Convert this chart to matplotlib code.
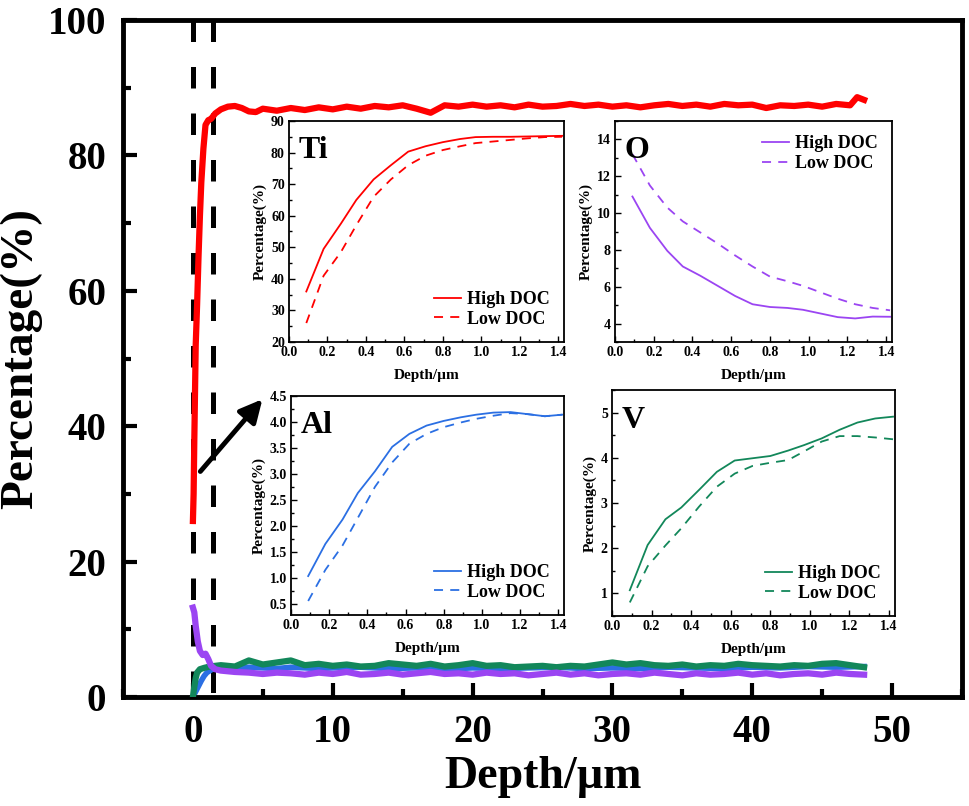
import matplotlib
matplotlib.use("Agg")
import matplotlib.pyplot as plt
from matplotlib.ticker import MultipleLocator, FormatStrFormatter

plt.rcParams["font.family"] = ["Liberation Serif", "DejaVu Serif"]
plt.rcParams["font.weight"] = "bold"
plt.rcParams["axes.labelweight"] = "bold"

W, H = 969, 806

RED = "#FF0000"
PURPLE = "#9B45F2"
BLUE = "#2B6FE3"
GREEN = "#12875A"

# main depth profiles (Depth in um, Percentage in %)
ti_x = [0.0, 0.05, 0.1, 0.15, 0.2, 0.3, 0.4, 0.5, 0.6, 0.75, 0.9, 1.1, 1.3, 1.6, 2.0,
        2.5, 3.0, 3.5, 4.0, 4.5, 5, 6, 7, 8, 9, 10, 11, 12, 13, 14, 15, 16, 17, 18,
        19, 20, 21, 22, 23, 24, 25, 26, 27, 28, 29, 30, 31, 32, 33, 34, 35, 36, 37,
        38, 39, 40, 41, 42, 43, 44, 45, 46, 47, 47.5, 48]
ti_y = [26, 30, 38, 45, 52, 58, 65, 71, 76, 81, 84.5, 85.2, 85.4, 86.2, 86.8,
        87.2, 87.3, 87.0, 86.5, 86.4, 86.9, 86.6, 87.0, 86.7, 87.1, 86.8, 87.2, 86.9,
        87.3, 87.1, 87.4, 86.9, 86.3, 87.4, 87.2, 87.5, 87.2, 87.4, 87.1, 87.5, 87.2,
        87.3, 87.6, 87.3, 87.5, 87.2, 87.4, 87.1, 87.4, 87.6, 87.3, 87.5, 87.2, 87.6,
        87.4, 87.5, 87.0, 87.4, 87.3, 87.5, 87.2, 87.6, 87.4, 88.6, 88.2]

al_x = [0.0, 0.2, 0.4, 0.6, 0.8, 1.0, 1.3, 1.6, 2, 3, 4, 5, 6, 7, 8, 9, 10, 12, 14,
        16, 18, 20, 22, 24, 26, 28, 30, 32, 34, 36, 38, 40, 42, 44, 46, 48]
al_y = [0.0, 0.8, 1.6, 2.4, 3.1, 3.6, 4.0, 4.2, 4.3, 4.2, 4.4, 4.3, 4.2, 4.4, 4.3,
        4.2, 4.3, 4.4, 4.2, 4.3, 4.1, 4.3, 4.2, 4.3, 4.4, 4.2, 4.3, 4.2, 4.4, 4.3,
        4.2, 4.4, 4.3, 4.5, 4.4, 4.5]

v_x = [0.0, 0.1, 0.2, 0.3, 0.5, 0.8, 1.2, 1.6, 2, 3, 4, 5, 6, 7, 8, 9, 10, 11, 12,
       13, 14, 15, 16, 17, 18, 19, 20, 21, 22, 23, 24, 25, 26, 27, 28, 29, 30, 31,
       32, 33, 34, 35, 36, 37, 38, 39, 40, 41, 42, 43, 44, 45, 46, 47, 48]
v_y = [0.0, 1.5, 2.8, 3.6, 4.1, 4.3, 4.5, 4.6, 4.7, 4.5, 5.4, 4.8, 5.1, 5.4, 4.7,
       4.9, 4.6, 4.8, 4.5, 4.6, 5.0, 4.8, 4.6, 4.9, 4.5, 4.7, 5.0, 4.6, 4.7, 4.4,
       4.5, 4.6, 4.4, 4.6, 4.5, 4.8, 5.1, 4.8, 5.0, 4.7, 4.6, 4.8, 4.5, 4.7, 4.6,
       4.9, 4.7, 4.6, 4.5, 4.7, 4.6, 4.9, 5.0, 4.7, 4.4]

o_x = [0.0, 0.1, 0.2, 0.35, 0.5, 0.7, 0.9, 1.1, 1.3, 1.6, 2, 3, 4, 5, 6, 7, 8, 9,
       10, 11, 12, 13, 14, 15, 16, 17, 18, 19, 20, 21, 22, 23, 24, 25, 26, 27, 28,
       29, 30, 31, 32, 33, 34, 35, 36, 37, 38, 39, 40, 41, 42, 43, 44, 45, 46, 47, 48]
o_y = [13.2, 12.5, 10.5, 8.2, 6.8, 6.2, 6.4, 5.6, 4.6, 4.1, 3.9, 3.7, 3.6, 3.4, 3.6,
       3.5, 3.3, 3.6, 3.4, 3.7, 3.3, 3.4, 3.6, 3.3, 3.5, 3.7, 3.4, 3.5, 3.3, 3.6,
       3.4, 3.5, 3.2, 3.4, 3.6, 3.3, 3.5, 3.2, 3.4, 3.5, 3.3, 3.6, 3.4, 3.2, 3.5,
       3.3, 3.4, 3.6, 3.3, 3.5, 3.2, 3.4, 3.5, 3.3, 3.6, 3.4, 3.3]

# near-surface insets (High / Low DOC)
depth = [0.09, 0.18, 0.27, 0.35, 0.44, 0.53, 0.62, 0.71, 0.80, 0.89, 0.97, 1.06,
         1.15, 1.24, 1.33, 1.42]
ti_high = [36, 49.5, 57.5, 65, 71.5, 76, 80.3, 82, 83.3, 84.3, 84.9, 85, 85, 85.1, 85.2, 85.3]
ti_low = [26, 41, 48.5, 57, 66, 71.5, 76, 79, 80.8, 82, 83, 83.5, 84, 84.5, 84.9, 85]
o_high = [10.9, 9.2, 7.95, 7.1, 6.6, 6.05, 5.5, 5.05, 4.9, 4.85, 4.75, 4.55, 4.35, 4.28, 4.38, 4.37]
o_low = [13.2, 11.5, 10.3, 9.55, 8.95, 8.35, 7.7, 7.1, 6.55, 6.3, 6.05, 5.7, 5.35, 5.05, 4.85, 4.72]
al_high = [1.03, 1.65, 2.12, 2.63, 3.05, 3.52, 3.77, 3.93, 4.02, 4.09, 4.14, 4.18, 4.19, 4.15, 4.11, 4.14]
al_low = [0.55, 1.15, 1.62, 2.15, 2.75, 3.22, 3.58, 3.77, 3.9, 3.99, 4.06, 4.12, 4.17, 4.15, 4.11, 4.14]
v_high = [1.07, 2.07, 2.64, 2.9, 3.29, 3.69, 3.94, 3.99, 4.04, 4.16, 4.28, 4.43, 4.62, 4.78, 4.87, 4.91]
v_low = [0.8, 1.6, 2.06, 2.44, 2.92, 3.36, 3.65, 3.82, 3.89, 3.95, 4.14, 4.36, 4.48, 4.48, 4.45, 4.41]


def px_axes(fig, left, top, right, bottom):
    return fig.add_axes([left / W, 1 - bottom / H, (right - left) / W, (bottom - top) / H])


fig = plt.figure(figsize=(W / 100, H / 100), dpi=100)
ax = px_axes(fig, 123, 20, 962, 697)

# dashed markers of the inset depth window
for xv in (0.0, 1.43):
    ax.plot([xv, xv], [100, 0], color="black", lw=3.6, linestyle=(0, (4.3, 5)), zorder=1)

ax.plot(al_x, al_y, color=BLUE, lw=4, zorder=2)
ax.plot(v_x, v_y, color=GREEN, lw=4.5, zorder=3)
ax.plot(o_x, o_y, color=PURPLE, lw=4.5, zorder=4)
ax.plot(ti_x, ti_y, color=RED, lw=4.5, zorder=5)

ax.annotate("", xy=(5.1, 44.3), xytext=(0.4, 33.0),
            arrowprops=dict(arrowstyle="-|>", color="black", lw=3.5, mutation_scale=34),
            zorder=6)

ax.set_xlim(-5, 55)
ax.set_ylim(0, 100)
ax.xaxis.set_major_locator(MultipleLocator(10))
ax.xaxis.set_minor_locator(MultipleLocator(5))
ax.yaxis.set_major_locator(MultipleLocator(20))
ax.yaxis.set_minor_locator(MultipleLocator(10))
ax.tick_params(which="major", direction="in", length=10, width=3, labelsize=28, pad=12)
ax.tick_params(which="minor", direction="in", length=6, width=3)
for sp in ax.spines.values():
    sp.set_linewidth(3.5)
for lab in ax.get_xticklabels() + ax.get_yticklabels():
    lab.set_fontweight("bold")
ax.set_xlabel("Depth/µm", fontsize=33, fontweight="bold", labelpad=4)
ax.set_ylabel("Percentage(%)", fontsize=34, fontweight="bold", labelpad=4)


def inset(box, high, low, color, name, ylim, major, minor, fmt, legend_loc):
    a = px_axes(fig, *box)
    a.plot(depth, high, color=color, lw=1.3, label="High DOC")
    a.plot(depth, low, color=color, lw=1.3, linestyle=(0, (5, 4)), label="Low DOC")
    a.set_xlim(0, 1.43)
    a.set_ylim(*ylim)
    a.xaxis.set_major_locator(MultipleLocator(0.2))
    a.xaxis.set_minor_locator(MultipleLocator(0.1))
    a.yaxis.set_major_locator(MultipleLocator(major))
    a.yaxis.set_minor_locator(MultipleLocator(minor))
    a.xaxis.set_major_formatter(FormatStrFormatter("%.1f"))
    a.yaxis.set_major_formatter(FormatStrFormatter(fmt))
    a.tick_params(which="major", direction="in", length=4, width=1, labelsize=10, pad=3)
    a.tick_params(which="minor", direction="in", length=2, width=1)
    for sp in a.spines.values():
        sp.set_linewidth(1.3)
    for lab in a.get_xticklabels() + a.get_yticklabels():
        lab.set_fontweight("bold")
    a.set_xlabel("Depth/µm", fontsize=11, fontweight="bold", labelpad=7)
    a.set_ylabel("Percentage(%)", fontsize=11, fontweight="bold", labelpad=3)
    a.text(0.035, 0.93, name, transform=a.transAxes, fontsize=23, fontweight="bold",
           va="top", ha="left")
    a.legend(loc=legend_loc, frameon=False, prop={"size": 13, "weight": "bold"},
             handlelength=1.5, handletextpad=0.3, labelspacing=0.15, borderaxespad=0.4)
    return a


inset((289, 121, 564, 342), ti_high, ti_low, RED, "Ti", (20, 90), 10, 5, "%d", "lower right")
inset((615, 121, 892, 342), o_high, o_low, PURPLE, "O", (3, 15), 2, 1, "%d", "upper right")
inset((291, 396, 564, 615), al_high, al_low, BLUE, "Al", (0.28, 4.5), 0.5, 0.25, "%.1f", "lower right")
inset((612, 390, 895, 616), v_high, v_low, GREEN, "V", (0.5, 5.5), 1, 0.5, "%d", "lower right")

fig.savefig("out.png", dpi=100)
